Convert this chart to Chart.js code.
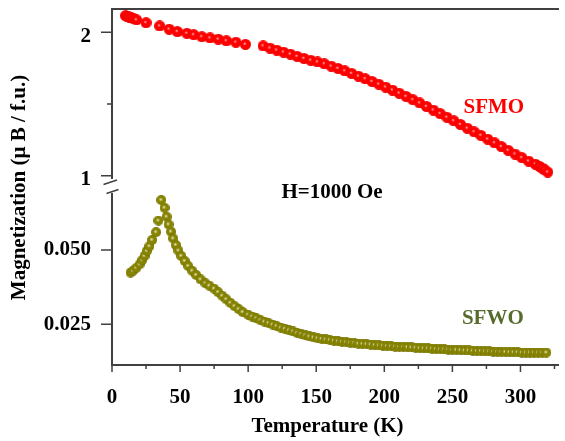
<!DOCTYPE html>
<html>
<head>
<meta charset="utf-8">
<script src="https://cdn.jsdelivr.net/npm/chart.js@4.4.0/dist/chart.umd.min.js"></script>
<style>
  html, body { margin: 0; padding: 0; background: #fff; }
</style>
</head>
<body>
<canvas id="chart" width="565" height="441"></canvas>
<script>
// SFMO (upper panel)
const sfmoT = [10, 11, 12, 13, 14, 16, 18, 25, 35, 42, 48, 55, 60, 66, 72, 78, 84, 91, 98,
  111, 116, 121, 126, 131, 136, 141, 146, 151, 156, 161, 166, 171, 176, 181, 186, 191, 196,
  201, 206, 211, 216, 221, 226, 231, 236, 241, 246, 251, 256, 261, 266, 271, 276, 281, 286,
  291, 296, 301, 306, 311, 314, 316, 318, 320];
const sfmoM = [2.116, 2.113, 2.110, 2.106, 2.101, 2.094, 2.087, 2.067, 2.044, 2.022, 2.005,
  1.993, 1.983, 1.969, 1.961, 1.952, 1.941, 1.931, 1.916,
  1.905, 1.890, 1.876, 1.862, 1.848, 1.832, 1.818, 1.805, 1.793, 1.780, 1.764, 1.748, 1.731,
  1.713, 1.694, 1.676, 1.657, 1.638, 1.618, 1.597, 1.575, 1.553, 1.530, 1.507, 1.483, 1.458,
  1.433, 1.408, 1.383, 1.357, 1.331, 1.306, 1.281, 1.255, 1.229, 1.203, 1.177, 1.151, 1.126,
  1.102, 1.080, 1.065, 1.052, 1.040, 1.025];

// SFWO (lower panel)
const sfwoT = [13.6, 15.4, 17.9, 20.3, 22.2, 23.9, 25.6, 27.5, 29.5, 32.4, 34.1, 36.2, 38.6,
  40.1, 41.5, 43.3, 44.9, 46.9, 48.8, 50.9, 53.4, 56, 58.9, 61.8, 65, 68.6, 71.5, 75, 78, 81,
  84, 87, 90, 93, 96,
  100, 103, 106, 109, 112, 115, 118, 121, 124, 127, 130, 133, 136, 139, 142, 145, 148, 151,
  154, 157, 160, 163, 166, 169, 172, 175, 178, 181, 184, 187, 190, 193, 196, 199, 202, 205,
  208, 211, 214, 217, 220, 223, 226, 229, 232, 235, 238, 241, 244, 247, 250, 253, 256, 259,
  262, 265, 268, 271, 274, 277, 280, 283, 286, 289, 292, 295, 298, 301, 304, 307, 310, 313,
  316, 319];
const sfwoM = [0.0424, 0.0430, 0.0440, 0.0452, 0.0466, 0.0480, 0.0497, 0.0513, 0.0534, 0.0560,
  0.0599, 0.0668, 0.0642, 0.0612, 0.0586, 0.0562, 0.0539, 0.0517, 0.0498, 0.0480, 0.0463,
  0.0446, 0.0430, 0.0416, 0.0401, 0.0388, 0.0380, 0.0370, 0.0358, 0.0346, 0.0334, 0.0322,
  0.0311, 0.0301, 0.0291,
  0.0282, 0.0276, 0.0270, 0.0264, 0.0259, 0.0254, 0.0249, 0.0244, 0.0239, 0.0235, 0.0230,
  0.0226, 0.0221, 0.0217, 0.0213, 0.0209, 0.0206, 0.0203, 0.0201, 0.0199, 0.0197, 0.0195,
  0.0193, 0.0191, 0.0190, 0.0188, 0.0187, 0.0185, 0.0184, 0.0183, 0.0182, 0.0180, 0.0179,
  0.0178, 0.0177, 0.0176, 0.0175, 0.0174, 0.0174, 0.0173, 0.0172, 0.0171, 0.0170, 0.0169,
  0.0169, 0.0168, 0.0167, 0.0166, 0.0166, 0.0165, 0.0164, 0.0164, 0.0163, 0.0162, 0.0162,
  0.0161, 0.0160, 0.0160, 0.0159, 0.0159, 0.0158, 0.0158, 0.0157, 0.0157, 0.0156, 0.0156,
  0.0156, 0.0155, 0.0155, 0.0155, 0.0155, 0.0155, 0.0155, 0.0155];

const xTickLabels = [0, 50, 100, 150, 200, 250, 300];
const hiTickLabels = [1, 2];
const loTickLabels = [0.025, 0.050];

const FONT = '"Liberation Serif", "Times New Roman", serif';
const AXIS = '#404040';

// little shaded ball used as marker
function sphere(d, hi, base, edge, spot) {
  const c = document.createElement('canvas');
  c.width = c.height = d;
  const g = c.getContext('2d');
  const r = d / 2;
  const grad = g.createRadialGradient(r * 0.85, r * 0.85, 0, r, r, r);
  grad.addColorStop(0, hi);
  grad.addColorStop(spot, base);
  grad.addColorStop(0.85, base);
  grad.addColorStop(1, edge);
  g.fillStyle = grad;
  g.beginPath();
  g.arc(r, r, r, 0, Math.PI * 2);
  g.fill();
  return c;
}

const redBall = sphere(11, '#ffcccc', '#ff0000', '#e60000', 0.32);
const oliveBall = sphere(10, '#f4f2d4', '#868400', '#6a6800', 0.42);

const pts = (xs, ys) => xs.map((x, i) => ({x, y: ys[i]}));
const near = (list, v) => list.some(t => Math.abs(t - v) < 1e-9);

const tickFont = {family: FONT, size: 21, weight: 'bold'};

// no automatic label padding, the frame is fixed
function noPad(s) {
  s.paddingLeft = 0;
  s.paddingRight = 0;
  s.paddingTop = 0;
  s.paddingBottom = 0;
}

const frame = {
  id: 'frame',
  beforeDatasetsDraw(chart) {
    const {ctx, chartArea: a, scales} = chart;
    const hi = scales.yHi, lo = scales.yLo, x = scales.x;
    ctx.save();
    ctx.strokeStyle = AXIS;
    ctx.lineWidth = 2;
    ctx.beginPath();
    ctx.moveTo(a.left - 1, a.top);
    ctx.lineTo(a.right, a.top);
    ctx.moveTo(a.left - 1, a.bottom);
    ctx.lineTo(a.right, a.bottom);
    ctx.moveTo(a.left, a.top);
    ctx.lineTo(a.left, hi.bottom - 7);
    ctx.moveTo(a.left, lo.top + 7);
    ctx.lineTo(a.left, a.bottom);
    ctx.stroke();

    ctx.lineWidth = 1.5;
    ctx.beginPath();
    ctx.moveTo(a.left - 8.5, hi.bottom - 1.5);
    ctx.lineTo(a.left + 5, hi.bottom - 6);
    ctx.moveTo(a.left - 5.5, lo.top + 7.5);
    ctx.lineTo(a.left + 6.5, lo.top + 3.5);
    ctx.stroke();

    ctx.lineWidth = 1.5;
    ctx.beginPath();
    x.ticks.forEach(t => {
      const px = x.getPixelForValue(t.value);
      const len = t.value % 50 === 0 ? 7 : 4;
      ctx.moveTo(px, a.bottom);
      ctx.lineTo(px, a.bottom + len);
    });
    hi.ticks.forEach(t => {
      const py = hi.getPixelForValue(t.value);
      const len = Number.isInteger(t.value) ? 11 : 5;
      ctx.moveTo(a.left, py);
      ctx.lineTo(a.left - len, py);
    });
    lo.ticks.forEach(t => {
      const py = lo.getPixelForValue(t.value);
      ctx.moveTo(a.left, py);
      ctx.lineTo(a.left - 11, py);
    });
    ctx.stroke();
    ctx.restore();
  },
  afterDraw(chart) {
    const {ctx, scales} = chart;
    const x = scales.x, hi = scales.yHi, lo = scales.yLo;
    ctx.save();
    ctx.font = 'bold 21px ' + FONT;
    ctx.textAlign = 'center';
    ctx.textBaseline = 'alphabetic';
    ctx.fillStyle = '#000';
    ctx.fillText('Temperature (K)', 327.5, 432);

    ctx.save();
    ctx.translate(25, 187.5);
    ctx.rotate(-Math.PI / 2);
    ctx.fillText('Magnetization (\u03bc B / f.u.)', 0, 0);
    ctx.restore();

    ctx.fillText('H=1000 Oe', x.getPixelForValue(161.6), lo.getPixelForValue(0.0675));
    ctx.fillStyle = '#ff0000';
    ctx.fillText('SFMO', x.getPixelForValue(280.4), hi.getPixelForValue(1.434));
    ctx.fillStyle = '#566b2c';
    ctx.fillText('SFWO', x.getPixelForValue(279.7), lo.getPixelForValue(0.0251));
    ctx.restore();
  }
};

new Chart(document.getElementById('chart'), {
  type: 'scatter',
  data: {
    datasets: [
      {
        label: 'SFMO',
        data: pts(sfmoT, sfmoM),
        yAxisID: 'yHi',
        pointStyle: redBall,
        pointRadius: 5,
        showLine: false
      },
      {
        label: 'SFWO',
        data: pts(sfwoT, sfwoM),
        yAxisID: 'yLo',
        pointStyle: oliveBall,
        pointRadius: 5,
        showLine: false
      }
    ]
  },
  options: {
    responsive: false,
    animation: false,
    devicePixelRatio: 1,
    layout: {padding: {top: 9, left: 0, right: 0, bottom: 0}},
    plugins: {legend: {display: false}, tooltip: {enabled: false}},
    scales: {
      x: {
        type: 'linear',
        min: 0,
        max: 328.3,
        afterFit: s => { s.height = 76; noPad(s); },
        grid: {display: false, drawTicks: false},
        border: {display: false},
        ticks: {
          stepSize: 25,
          includeBounds: false,
          autoSkip: false,
          maxRotation: 0,
          minRotation: 0,
          padding: 20,
          color: '#000',
          font: tickFont,
          callback: v => xTickLabels.includes(v) ? String(v) : ''
        }
      },
      yLo: {
        type: 'linear',
        position: 'left',
        stack: 'y',
        stackWeight: 179,
        min: 0.01131,
        max: 0.07153,
        afterFit: s => { s.width = 112; noPad(s); },
        grid: {display: false, drawTicks: false},
        border: {display: false},
        ticks: {
          stepSize: 0.025,
          includeBounds: false,
          padding: 21,
          color: '#000',
          font: tickFont,
          callback: v => near(loTickLabels, v) ? v.toFixed(3) : ''
        }
      },
      yHi: {
        type: 'linear',
        position: 'left',
        stack: 'y',
        stackWeight: 177,
        min: 0.9282,
        max: 2.1625,
        afterFit: s => { s.width = 112; noPad(s); },
        grid: {display: false, drawTicks: false},
        border: {display: false},
        ticks: {
          stepSize: 0.5,
          includeBounds: false,
          labelOffset: 4,
          padding: 21,
          color: '#000',
          font: tickFont,
          callback: v => near(hiTickLabels, v) ? String(v) : ''
        }
      }
    }
  },
  plugins: [frame]
});
</script>
</body>
</html>
